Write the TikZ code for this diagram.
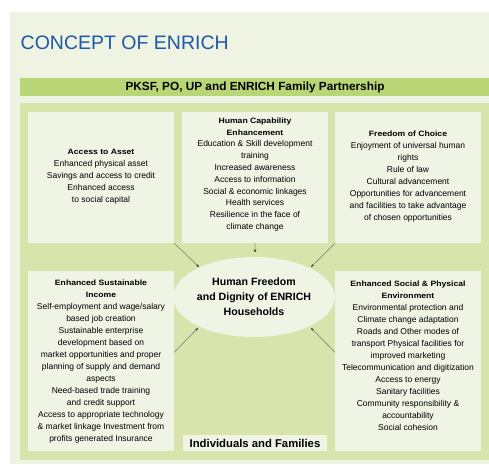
\documentclass[tikz,border=0pt]{standalone}
\usepackage{fontspec}
\setmainfont{Liberation Sans}
\newfontfamily\hdfont[FakeStretch=1.12]{Liberation Sans}
\usetikzlibrary{shapes.geometric,arrows.meta,calc}
\definecolor{outerbg}{RGB}{238,243,226}
\definecolor{panelcol}{RGB}{215,229,172}
\definecolor{barcol}{RGB}{185,214,118}
\definecolor{boxcol}{RGB}{239,244,229}
\definecolor{titleblue}{RGB}{30,88,168}
\definecolor{arrcol}{RGB}{120,125,110}
\tikzset{
  box/.style={fill=boxcol, draw=none, anchor=north west, inner sep=0pt},
  boxtext/.style={align=center, inner sep=0pt, text=black,
    font=\fontsize{8.5}{12}\selectfont},
  arr/.style={draw=arrcol, line width=0.55pt, -{Stealth[length=3.2pt,width=2.6pt,color=black!80,fill=black!80]}},
}
\newcommand{\hdl}[1]{{\hdfont\bfseries\fontsize{7.7}{12}\selectfont #1}}
\begin{document}
\begin{tikzpicture}[x=1pt,y=-1pt]
\useasboundingbox (0,0) rectangle (489,464);
\fill[outerbg] (10,12) rectangle (489,464);
\node[anchor=west, inner sep=0pt, text=titleblue, font=\fontsize{19.5}{22}\selectfont] (title) at (20.5,43) {CONCEPT OF ENRICH};
\fill[barcol] (20,78) rectangle (489,96);
\node[inner sep=0pt, font=\bfseries\fontsize{11.8}{13}\selectfont] (bar) at (255,87.5) {PKSF, PO, UP and ENRICH Family Partnership};
\fill[panelcol] (20,103) rectangle (489,460);
% boxes
\node[box, minimum width=146pt, minimum height=131pt] (TL) at (28,112) {};
\node[box, minimum width=146pt, minimum height=131pt] (TM) at (182,112) {};
\node[box, minimum width=146pt, minimum height=131pt] (TR) at (335,112) {};
\node[box, minimum width=146pt, minimum height=180pt] (BL) at (28,271) {};
\node[box, minimum width=146pt, minimum height=180pt] (BR) at (335,271) {};
% texts
\node[boxtext] (TLt) at (101,177) {\hdl{Access to Asset}\\Enhanced physical asset\\Savings and access to credit\\Enhanced access\\to social capital};
\node[boxtext, font=\fontsize{8.5}{11.8}\selectfont] (TMt) at (255,174.5) {\hdl{Human Capability}\\\hdl{Enhancement}\\Education \& Skill development\\training\\Increased awareness\\Access to information\\Social \& economic linkages\\Health services\\Resilience in the face of\\climate change};
\node[boxtext] (TRt) at (408,176.5) {\hdl{Freedom of Choice}\\Enjoyment of universal human\\rights\\Rule of law\\Cultural advancement\\Opportunities for advancement\\and facilities to take advantage\\of chosen opportunities};
\node[boxtext] (BLt) at (101,362) {\hdl{Enhanced Sustainable}\\\hdl{Income}\\Self-employment and wage/salary\\based job creation\\Sustainable enterprise\\development based on\\market opportunities and proper\\planning of supply and demand\\aspects\\Need-based trade training\\and credit support\\Access to appropriate technology\\\& market linkage Investment from\\profits generated Insurance};
\node[boxtext] (BRt) at (408,356) {\hdl{Enhanced Social \& Physical}\\\hdl{Environment}\\Environmental protection and\\Climate change adaptation\\Roads and Other modes of\\transport Physical facilities for\\improved marketing\\Telecommunication and digitization\\Access to energy\\Sanitary facilities\\Community responsibility \&\\accountability\\Social cohesion};
% centre ellipse
\node[ellipse, fill=boxcol, draw=none, minimum width=130pt, minimum height=80pt, inner sep=0pt, align=center, font=\bfseries\fontsize{10.6}{15}\selectfont] (H) at (254,297) {Human Freedom\\and Dignity of ENRICH\\Households};
% individuals and families
\node[fill=boxcol, minimum width=144pt, minimum height=16pt, inner sep=0pt, font=\bfseries\fontsize{11.3}{13}\selectfont] (IF) at (255,443) {Individuals and Families};
% arrow ends
\coordinate (a1) at (199,267);
\coordinate (a2) at (255,252.5);
\coordinate (a3) at (311,267);
\coordinate (a4) at (198,328);
\coordinate (a5) at (311,328);
\coordinate (s4) at ($(BL.north east)!0.45!(BL.south east)$);
\coordinate (s5) at ($(BR.north west)!0.45!(BR.south west)$);
\draw[arr] (TL.south east) -- (a1);
\draw[arr] (TM.south) -- (a2);
\draw[arr] (TR.south west) -- (a3);
\draw[arr] (s4) -- (a4);
\draw[arr] (s5) -- (a5);
\end{tikzpicture}
\end{document}
